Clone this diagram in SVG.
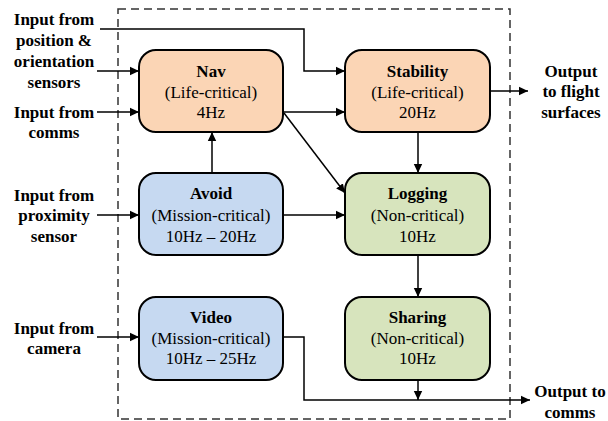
<svg xmlns="http://www.w3.org/2000/svg" width="608" height="421" viewBox="0 0 608 421">
<style>
.t{font-family:'Liberation Serif','Times New Roman',serif;font-size:17px;fill:#000;text-anchor:middle}
.b{font-weight:bold}
.box{stroke:#000;stroke-width:2}
.life{fill:#FBD5B5}
.mis{fill:#C6D9F1}
.non{fill:#D7E4BD}
.c{fill:none;stroke:#000;stroke-width:1.5}
</style>
<defs>
<marker id="ah" markerWidth="10" markerHeight="10" refX="9" refY="5" orient="auto" markerUnits="userSpaceOnUse">
<path d="M0,0.8 L9,5 L0,9.2 Z" fill="#000"/>
</marker>
</defs>
<rect x="118" y="9" width="392" height="410" fill="none" stroke="#333" stroke-width="1.5" stroke-dasharray="8,5"/>
<g id="connectors">
<path class="c" d="M100,29 H304 V71 H345" marker-end="url(#ah)"/>
<path class="c" d="M97,71 H139" marker-end="url(#ah)"/>
<path class="c" d="M97,112 H139" marker-end="url(#ah)"/>
<path class="c" d="M283,112 H345" marker-end="url(#ah)"/>
<path class="c" d="M284,113 L345,193" marker-end="url(#ah)"/>
<path class="c" d="M418,132 V173" marker-end="url(#ah)"/>
<path class="c" d="M490,91 H528" marker-end="url(#ah)"/>
<path class="c" d="M212,173 V132" marker-end="url(#ah)"/>
<path class="c" d="M283,215 H345" marker-end="url(#ah)"/>
<path class="c" d="M97,215 H139" marker-end="url(#ah)"/>
<path class="c" d="M97,337 H139" marker-end="url(#ah)"/>
<path class="c" d="M418,255 V297" marker-end="url(#ah)"/>
<path class="c" d="M418,380 V400" marker-end="url(#ah)"/>
<path class="c" d="M283,337 H304 V400 H530" marker-end="url(#ah)"/>
</g>
<g id="nav">
<rect class="box life" x="139" y="50" width="144" height="82" rx="17"/>
<text class="t b" x="211" y="77">Nav</text>
<text class="t" x="211" y="98">(Life-critical)</text>
<text class="t" x="211" y="118">4Hz</text>
</g>
<g id="stability">
<rect class="box life" x="345" y="50" width="145" height="82" rx="17"/>
<text class="t b" x="417.5" y="77">Stability</text>
<text class="t" x="417.5" y="98">(Life-critical)</text>
<text class="t" x="417.5" y="118">20Hz</text>
</g>
<g id="avoid">
<rect class="box mis" x="139" y="173" width="144" height="82" rx="17"/>
<text class="t b" x="211" y="199">Avoid</text>
<text class="t" x="211" y="221">(Mission-critical)</text>
<text class="t" x="211" y="242">10Hz – 20Hz</text>
</g>
<g id="logging">
<rect class="box non" x="345" y="173" width="145" height="82" rx="17"/>
<text class="t b" x="417.5" y="199">Logging</text>
<text class="t" x="417.5" y="221">(Non-critical)</text>
<text class="t" x="417.5" y="242">10Hz</text>
</g>
<g id="video">
<rect class="box mis" x="139" y="297" width="144" height="83" rx="17"/>
<text class="t b" x="211" y="323">Video</text>
<text class="t" x="211" y="344">(Mission-critical)</text>
<text class="t" x="211" y="364">10Hz – 25Hz</text>
</g>
<g id="sharing">
<rect class="box non" x="345" y="297" width="145" height="83" rx="17"/>
<text class="t b" x="417.5" y="323">Sharing</text>
<text class="t" x="417.5" y="344">(Non-critical)</text>
<text class="t" x="417.5" y="364">10Hz</text>
</g>
<g id="in-position">
<text class="t b" x="54" y="25">Input from</text>
<text class="t b" x="54" y="46">position &amp;</text>
<text class="t b" x="54" y="67">orientation</text>
<text class="t b" x="54" y="88">sensors</text>
</g>
<g id="in-comms">
<text class="t b" x="54" y="118">Input from</text>
<text class="t b" x="54" y="138">comms</text>
</g>
<g id="in-proximity">
<text class="t b" x="54" y="201">Input from</text>
<text class="t b" x="54" y="221">proximity</text>
<text class="t b" x="54" y="242">sensor</text>
</g>
<g id="in-camera">
<text class="t b" x="54" y="334">Input from</text>
<text class="t b" x="54" y="354">camera</text>
</g>
<g id="out-flight">
<text class="t b" x="571" y="77">Output</text>
<text class="t b" x="571" y="97">to flight</text>
<text class="t b" x="571" y="118">surfaces</text>
</g>
<g id="out-comms">
<text class="t b" x="570" y="397">Output to</text>
<text class="t b" x="570" y="418">comms</text>
</g>
</svg>
